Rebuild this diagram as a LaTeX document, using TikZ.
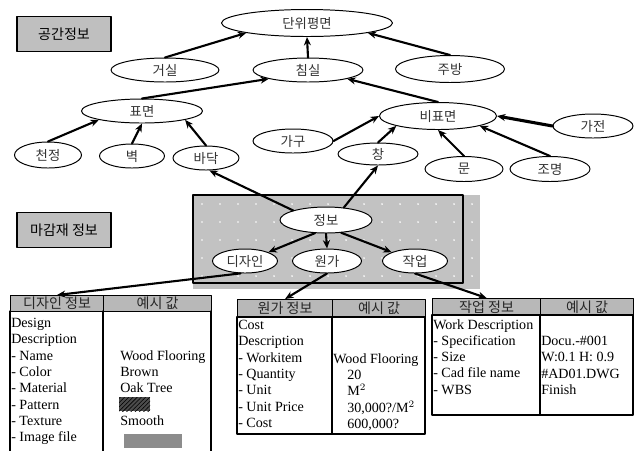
\documentclass[tikz,border=0pt]{standalone}
\usepackage{fontspec}
\setmainfont{Liberation Serif}
\newfontfamily\kr{Noto Sans CJK KR}
\usetikzlibrary{shapes.geometric,patterns,arrows.meta}

\begin{document}
\begin{tikzpicture}[x=0.025cm,y=-0.025cm,line join=round,line cap=round,
    >={Stealth[length=6pt,width=5pt]},
    ell/.style 2 args={ellipse,draw,line width=0.7pt,fill=white,inner sep=0pt,
      minimum width=#1*0.025cm,minimum height=#2*0.025cm,
      font=\kr\fontsize{9.5}{11}\selectfont,text=black!80},
    tagbox/.style={draw,line width=0.8pt,fill=black!25,minimum width=94*0.025cm,
      minimum height=35*0.025cm,font=\kr\fontsize{10}{12}\selectfont},
    headcell/.style 2 args={draw,line width=0.8pt,fill=black!28,anchor=north west,inner sep=0pt,
      minimum width=#1*0.025cm,minimum height=#2*0.025cm,font=\kr\fontsize{10}{11}\selectfont,text=black!85},
    celltext/.style={anchor=north west,align=left,inner sep=0pt,font=\fontsize{10}{11.6}\selectfont},
    link/.style={->,line width=1.5pt}]
  \useasboundingbox (0,0) rectangle (642,450);

  \node[tagbox] (space) at (64,34) {공간정보};
  \node[tagbox] (finish) at (64,230) {마감재 정보};

  \fill[black!24] (193,195) rectangle (480,289);
  \foreach \x in {202,220,...,472}
    \foreach \y in {204,222,...,284}
      \fill[white] (\x,\y) circle (0.7pt);
  \draw[line width=0.8pt] (193,195) rectangle (463,283);

  \node[ell={171}{27}] (danwi) at (307,23) {단위평면};
  \node[ell={108}{24}] (geosil) at (165,70) {거실};
  \node[ell={110}{24}] (chimsil) at (308,70) {침실};
  \node[ell={109}{27}] (jubang) at (450,69) {주방};
  \node[ell={121}{24}] (pyo) at (142,111) {표면};
  \node[ell={117}{27}] (bipyo) at (438,116) {비표면};
  \node[ell={80}{24}] (gagu) at (293,141) {가구};
  \node[ell={80}{24}] (gajeon) at (593,126) {가전};
  \node[ell={67}{26}] (cheon) at (48,155) {천정};
  \node[ell={65}{24}] (byeok) at (132,156) {벽};
  \node[ell={66}{24}] (bada) at (206,158) {바닥};
  \node[ell={80}{22}] (chang) at (378,154) {창};
  \node[ell={78}{25}] (mun) at (464,169) {문};
  \node[ell={80}{25}] (jomyeong) at (550,169) {조명};
  \node[ell={92}{26}] (jeongbo) at (326,220) {정보};
  \node[ell={65}{24}] (design) at (245,261) {디자인};
  \node[ell={69}{24}] (wonga) at (327,261) {원가};
  \node[ell={65}{24}] (jageop) at (415,261) {작업};

  \draw[link] (geosil.north) -- (danwi.south west);
  \draw[link] (chimsil.north) -- (danwi.south);
  \draw[link] (jubang.north) -- (danwi.south east);
  \draw[link] (pyo.north) -- (chimsil.south west);
  \draw[link] (bipyo.north) -- (chimsil.south east);
  \draw[link] (cheon.north) -- (pyo.south west);
  \draw[link] (byeok.north) -- (pyo.south);
  \draw[link] (bada.north) -- (pyo.south east);
  \draw[link] (gagu.east) -- (bipyo.west);
  \draw[link] (chang.north) -- (bipyo.south west);
  \draw[link] (mun.north) -- (bipyo.south);
  \draw[link] (jomyeong.north) -- (bipyo.south east);
  \draw[link,line width=2.2pt] (gajeon.west) -- (bipyo.east);
  \draw[link] (jeongbo.north west) -- (bada.-75);
  \draw[link] (jeongbo.35) -- (chang.south);
  \draw[link] (jeongbo.-130) -- (design.north east);
  \draw[link] (jeongbo.-90) -- (wonga.north);
  \draw[link] (jeongbo.-40) -- (jageop.north west);

  \node[headcell={93}{16}] (designhead) at (10,295) {디자인 정보};
  \node[headcell={108}{16}] (designval) at (103,295) {예시 값};
  \draw[line width=0.8pt] (10,311) -- (10,451) (103,311) -- (103,451) (211,311) -- (211,451);
  \node[celltext] (designtxt) at (11,318) {Design\\Description\\- Name\\- Color\\- Material\\- Pattern\\- Texture\\- Image file};
  \node[celltext] (designvtxt) at (120,350) {Wood Flooring\\Brown\\Oak Tree\\\strut\\Smooth};
  \fill[black!70] (119,397) rectangle (150,411);
  \fill[pattern=north east lines,pattern color=black] (119,397) rectangle (150,411);
  \fill[black!45] (124,434) rectangle (182,448);

  \node[headcell={95}{18}] (costhead) at (237,299) {원가 정보};
  \node[headcell={93}{18}] (costval) at (332,299) {예시 값};
  \draw[line width=0.8pt] (237,317) rectangle (425,434) (332,317) -- (332,434);
  \node[celltext] (costtxt) at (238,320) {Cost\\Description\\- Workitem\\- Quantity\\- Unit\\- Unit Price\\- Cost};
  \node[celltext] (costvtxt) at (333,353) {Wood Flooring};
  \node[celltext] (costnum) at (347,370) {20\\M$^2$\\30,000?/M$^2$\\600,000?};

  \node[headcell={108}{17}] (workhead) at (432,298) {작업 정보};
  \node[headcell={93}{17}] (workval) at (540,298) {예시 값};
  \draw[line width=0.8pt] (432,315) rectangle (633,415) (540,315) -- (540,415);
  \node[celltext] (worktxt) at (433,319) {Work Description\\- Specification\\- Size\\- Cad file name\\- WBS};
  \node[celltext] (workvtxt) at (541,336) {Docu.-\#001\\W:0.1 H: 0.9\\\#AD01.DWG\\Finish};

  \draw[link] (design.-110) -- (designhead.north);
  \draw[link] (wonga.south) -- (costhead.north);
  \draw[link] (jageop.south) -- (workhead.north);
\end{tikzpicture}
\end{document}
